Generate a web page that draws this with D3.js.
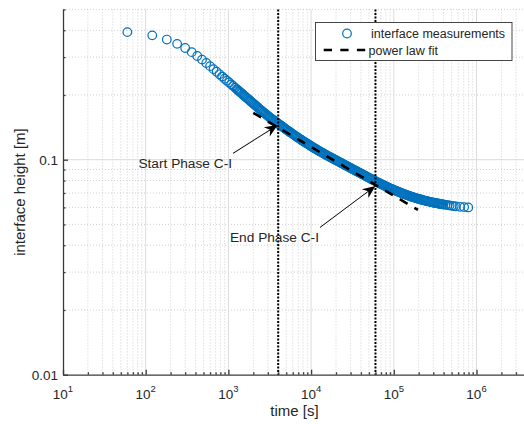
<!DOCTYPE html>
<html>
<head>
<meta charset="utf-8">
<script src="https://cdn.jsdelivr.net/npm/d3@7"></script>
<style>
body { margin: 0; background: #fff; }
svg { display: block; font-family: "Liberation Sans", Arial, Helvetica, sans-serif; }
</style>
</head>
<body>
<div id="viz"></div>
<script>
var timeS = [60,120,180,240,300,360,420,480,540,600,660,720,780,840,900,960,1020,1080,1140,1200,
  1260,1330,1410,1500,1580,1680,1780,1880,2000,2110,2240,2370,2510,2660,2820,2990,
  3160,3350,3550,3760,3980,4220,4470,4730,5010,5310,5620,5960,6310,6680,7080,7500,7940,8410,8910,9440,
  10000,10590,11220,11890,12590,13340,14130,14960,15850,16790,17780,18840,19950,21140,22390,23710,
  25120,26610,28180,29850,31620,33500,35480,37580,39810,42170,44670,47320,50120,53090,56230,59570,
  63100,66830,70790,74990,79430,84140,89130,94410,
  100000,105900,112200,118900,125900,133400,141300,149600,158500,167900,177800,188400,199500,211300,
  223900,237100,251200,266100,281800,298500,316200,335000,354800,375800,398100,421700,446700,473200,
  501200,531100,562300,631000,707900,794300];
var heightM = [0.392,0.3787,0.362,0.3457,0.3307,0.3163,0.3035,0.292,0.2817,0.2723,0.2637,0.2564,0.2495,0.2435,0.238,0.2331,0.2285,0.2241,0.2201,0.2164,
  0.2129,0.2089,0.205,0.201,0.1971,0.1934,0.1898,0.1861,0.1825,0.1791,0.1757,0.1723,0.1689,0.166,0.1631,0.1601,
  0.1572,0.1547,0.1522,0.1497,0.1472,0.1449,0.1426,0.1403,0.138,0.1359,0.1339,0.1318,0.1297,0.1278,0.126,0.1241,0.1222,0.1205,0.1189,0.1172,
  0.1155,0.114,0.1125,0.111,0.1095,0.1082,0.1069,0.1055,0.1042,0.103,0.1018,0.1006,0.09943,0.09828,0.09714,0.09599,
  0.09484,0.09375,0.09266,0.09156,0.09047,0.08943,0.08839,0.08734,0.0863,0.08531,0.08431,0.08332,0.08232,0.08139,0.08047,0.07954,
  0.07861,0.07777,0.07693,0.07608,0.07524,0.0745,0.07376,0.07302,
  0.07228,0.07165,0.07101,0.07038,0.06974,0.06919,0.06864,0.06808,0.06753,0.06707,0.06661,0.06615,0.06569,0.0653,
  0.06491,0.06451,0.06412,0.06381,0.0635,0.06319,0.06288,0.06263,0.06238,0.06213,0.06188,0.06167,0.06146,0.06125,
  0.06103,0.06087,0.06071,0.06039,0.06018,0.05998];

// more readings in the dense part of the band, between the ones above
var timeMid = [1295,1370,1455,1540,1630,1730,1830,1940,2055,2175,2305,2440,2585,2740,2905,3075,
  3255,3450,3655,3870,4100,4345,4600,4870,5160,5465,5790,6135,6495,6880,7290,7720,8175,8660,9175,9720,
  10290,10900,11550,12240,12960,13730,14540,15400,16310,17280,18300,19390,20540,21760,23040,24410,
  25860,27390,29010,30730,32550,34480,36520,38690,40980,43410,45980,48710,51590,54650,57880,61310,
  64940,68780,72860,77180,81760,86600,91730,97160,
  102900,109000,115500,122400,129600,137300,145400,154000,163100,172800,183000,193900,205300,217500,
  230400,244000,258500,273800,290000,307200,325500,344800,365200,386800];
var heightMid = [0.2109,0.207,0.203,0.199,0.1953,0.1916,0.188,0.1843,0.1808,0.1774,0.174,0.1706,0.1675,0.1646,0.1616,0.1587,
  0.156,0.1535,0.151,0.1485,0.1461,0.1438,0.1415,0.1392,0.137,0.1349,0.1329,0.1308,0.1288,0.1269,0.1251,0.1232,0.1214,0.1197,0.1181,0.1164,
  0.1148,0.1133,0.1118,0.1103,0.1089,0.1076,0.1062,0.1049,0.1036,0.1024,0.1012,0.1,0.09886,0.09771,0.09657,0.09542,
  0.0943,0.09321,0.09211,0.09102,0.08995,0.08891,0.08787,0.08682,0.08581,0.08481,0.08382,0.08282,0.08186,0.08093,0.08001,0.07908,
  0.07819,0.07735,0.07651,0.07566,0.07487,0.07413,0.07339,0.07265,
  0.07197,0.07133,0.0707,0.07006,0.06947,0.06892,0.06836,0.06781,0.0673,0.06684,0.06638,0.06592,0.0655,0.06511,
  0.06471,0.06432,0.06397,0.06366,0.06335,0.06304,0.06276,0.06251,0.06226,0.062];

// power law fit, straight in log-log so two ends are enough
var fitT = [2000, 196000];
var fitH = [0.165, 0.0584];

// start / end of phase C-I
var phaseT = [4000, 60000];

var xTickExp = [1, 2, 3, 4, 5, 6];
var yTickVals = [0.01, 0.1];
var yTickLabels = ["0.01", "0.1"];

var annLabels = ["Start Phase C-I", "End Phase C-I"];
var annTail = [[1137, 0.107], [12810, 0.0484]];
var annTip = [[3950, 0.145], [60000, 0.0755]];

var legendLabels = ["interface measurements", "power law fit"];

var W = 524, H = 424;
var blue = "#0072BD", axisCol = "#262626";

var x = d3.scaleLog().domain([10, 4e6]).range([63, 526.3]);
var y = d3.scaleLog().domain([0.01, 0.5]).range([374.7, 9.4]);
var x0 = x.range()[0], y0 = y.range()[0], yTop = y.range()[1];

// decade and minor values inside the domains
function minors(dom) {
  var out = [];
  for (var d = Math.floor(Math.log10(dom[0])); d <= Math.ceil(Math.log10(dom[1])); d++)
    for (var k = 2; k <= 9; k++) {
      var v = k * Math.pow(10, d);
      if (v >= dom[0] * 0.999 && v <= dom[1] * 1.001) out.push(v);
    }
  return out;
}
var xMajor = xTickExp.map(function(e) { return Math.pow(10, e); });
var xMinor = minors(x.domain());
var yMajor = yTickVals;
var yMinor = minors(y.domain());

var svg = d3.select("#viz").append("svg").attr("width", W).attr("height", H);

// grid
var grid = svg.append("g");
grid.selectAll(".gx").data(xMinor).enter().append("line")
  .attr("x1", d => x(d)).attr("x2", d => x(d)).attr("y1", yTop).attr("y2", y0)
  .attr("stroke", "#c4c4c4").attr("stroke-width", 0.8).attr("stroke-dasharray", "1,2");
grid.selectAll(".gy").data(yMinor).enter().append("line")
  .attr("x1", x0).attr("x2", W).attr("y1", d => y(d)).attr("y2", d => y(d))
  .attr("stroke", "#c4c4c4").attr("stroke-width", 0.8).attr("stroke-dasharray", "1,2");
grid.selectAll(".gX").data(xMajor.slice(1)).enter().append("line")
  .attr("x1", d => x(d)).attr("x2", d => x(d)).attr("y1", yTop).attr("y2", y0)
  .attr("stroke", "#dcdcdc").attr("stroke-width", 1);
grid.selectAll(".gY").data(yMajor.slice(1)).enter().append("line")
  .attr("x1", x0).attr("x2", W).attr("y1", d => y(d)).attr("y2", d => y(d))
  .attr("stroke", "#dcdcdc").attr("stroke-width", 1);

// measurements
var pts = [];
for (var i = 0; i < Math.min(timeS.length, heightM.length); i++) pts.push([timeS[i], heightM[i]]);
for (var j = 0; j < Math.min(timeMid.length, heightMid.length); j++) pts.push([timeMid[j], heightMid[j]]);
svg.append("g").selectAll("circle").data(pts).enter().append("circle")
  .attr("cx", d => x(d[0])).attr("cy", d => y(d[1])).attr("r", 4.3)
  .attr("fill", "none").attr("stroke", blue).attr("stroke-width", 1.2);

// power law fit
svg.append("path")
  .datum(d3.range(fitT.length))
  .attr("d", d3.line().x(i => x(fitT[i])).y(i => y(fitH[i])))
  .attr("fill", "none").attr("stroke", "#000").attr("stroke-width", 2.6)
  .attr("stroke-dasharray", "9,8");

// phase lines
svg.append("g").selectAll("line").data(phaseT).enter().append("line")
  .attr("x1", d => x(d)).attr("x2", d => x(d)).attr("y1", yTop).attr("y2", y0)
  .attr("stroke", "#000").attr("stroke-width", 2).attr("stroke-dasharray", "2,1.5");

// axes, ticks pointing inward
svg.append("g").attr("transform", "translate(0," + y0 + ")")
  .call(d3.axisBottom(x).tickValues(xMinor).tickSize(-2.5).tickSizeOuter(0).tickFormat(""))
  .call(g => g.select(".domain").remove());
svg.append("g").attr("transform", "translate(0," + y0 + ")")
  .call(d3.axisBottom(x).tickValues(xMajor).tickSize(-5).tickSizeOuter(0).tickFormat(""));
svg.append("g").attr("transform", "translate(" + x0 + ",0)")
  .call(d3.axisLeft(y).tickValues(yMinor).tickSize(-2.5).tickSizeOuter(0).tickFormat(""))
  .call(g => g.select(".domain").remove());
svg.append("g").attr("transform", "translate(" + x0 + ",0)")
  .call(d3.axisLeft(y).tickValues(yMajor).tickSize(-5).tickSizeOuter(0).tickFormat(""));
svg.selectAll(".domain, .tick line").attr("stroke", "#3a3a3a").attr("stroke-width", 1.3);

// tick labels
var xl = svg.append("g").selectAll("text").data(xTickExp).enter().append("text")
  .attr("x", d => x(Math.pow(10, d))).attr("y", 398.5)
  .attr("text-anchor", "middle").attr("fill", axisCol).attr("font-size", 13.5);
xl.append("tspan").text("10");
xl.append("tspan").attr("dy", -6.5).attr("font-size", 9.5).text(d => d);

svg.append("g").selectAll("text").data(yTickVals).enter().append("text")
  .attr("x", x0 - 5).attr("y", d => y(d)).attr("dy", "0.36em")
  .attr("text-anchor", "end").attr("fill", axisCol).attr("font-size", 13.5)
  .text((d, i) => yTickLabels[i]);

// axis labels
svg.append("text").attr("x", (x0 + W) / 2 + 1).attr("y", 415.5)
  .attr("text-anchor", "middle").attr("fill", axisCol).attr("font-size", 15)
  .text("time [s]");
svg.append("text").attr("transform", "translate(24.5," + ((yTop + y0) / 2) + ") rotate(-90)")
  .attr("text-anchor", "middle").attr("fill", axisCol).attr("font-size", 15)
  .text("interface height [m]");

// text arrows
annLabels.forEach(function(lab, i) {
  var tx = x(annTail[i][0]), ty = y(annTail[i][1]);
  var hx = x(annTip[i][0]), hy = y(annTip[i][1]);
  var ang = Math.atan2(hy - ty, hx - tx) * 180 / Math.PI;
  var len = Math.hypot(hx - tx, hy - ty);
  var g = svg.append("g").attr("transform", "translate(" + tx + "," + ty + ") rotate(" + ang + ")");
  g.append("line").attr("x1", 0).attr("y1", 0).attr("x2", len - 8).attr("y2", 0)
    .attr("stroke", "#000").attr("stroke-width", 0.9);
  g.append("path")
    .attr("d", "M" + len + ",0L" + (len - 13) + ",-5.5L" + (len - 9) + ",0L" + (len - 13) + ",5.5Z")
    .attr("fill", "#000");
  svg.append("text").attr("x", tx - 1).attr("y", ty + 14.5)
    .attr("text-anchor", "end").attr("fill", axisCol).attr("font-size", 13.7).text(lab);
});

// legend
var lg = svg.append("g");
lg.append("rect").attr("x", 315.5).attr("y", 22.5).attr("width", 196.5).attr("height", 38)
  .attr("fill", "#fff").attr("stroke", "#333").attr("stroke-width", 0.9);
lg.append("circle").attr("cx", 347).attr("cy", 33.5).attr("r", 4.3)
  .attr("fill", "none").attr("stroke", blue).attr("stroke-width", 1.2);
lg.append("line").attr("x1", 323.7).attr("x2", 366).attr("y1", 50).attr("y2", 50)
  .attr("stroke", "#000").attr("stroke-width", 2.6).attr("stroke-dasharray", "8.3,8.3");
lg.selectAll("text").data(legendLabels).enter().append("text")
  .attr("x", (d, i) => i === 0 ? 371 : 368.5).attr("y", (d, i) => 38 + i * 16.5)
  .attr("fill", axisCol).attr("font-size", 12.5).text(d => d);
</script>
</body>
</html>
